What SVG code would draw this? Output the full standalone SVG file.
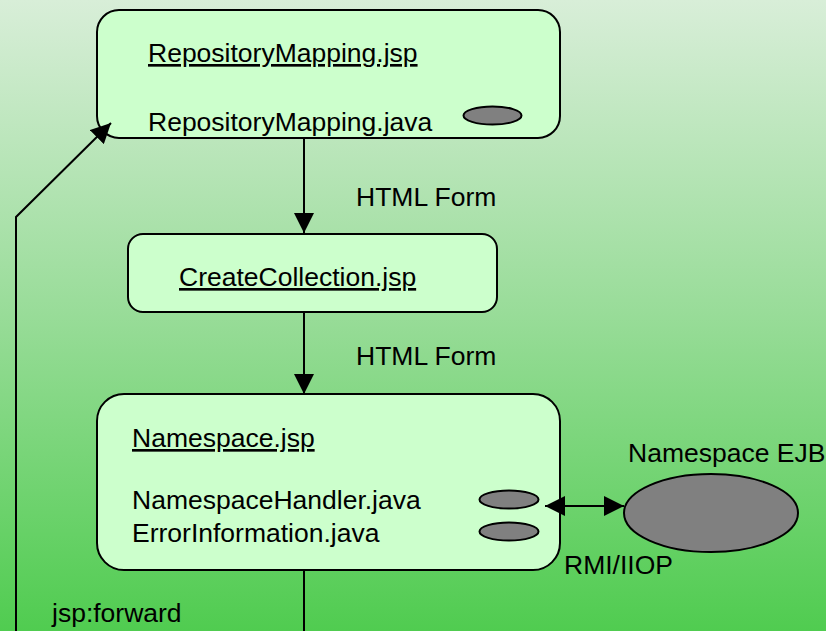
<svg xmlns="http://www.w3.org/2000/svg" width="826" height="631" viewBox="0 0 826 631">
  <defs>
    <linearGradient id="bg" x1="0" y1="0" x2="0" y2="1">
      <stop offset="0" stop-color="#d8eed8"/>
      <stop offset="0.5" stop-color="#98dc98"/>
      <stop offset="1" stop-color="#50cc50"/>
    </linearGradient>
    <marker id="head" viewBox="0 0 20 20" refX="20" refY="10" markerWidth="20" markerHeight="20" markerUnits="userSpaceOnUse" orient="auto-start-reverse">
      <path d="M0,0 L20,10 L0,20 Z" fill="#000"/>
    </marker>
  </defs>
  <style>
    .box { fill: #ccffcc; stroke: #000; stroke-width: 2; }
    .comp { fill: #808080; stroke: #000; stroke-width: 2; }
    .txt { font-family: "Liberation Sans", Arial, sans-serif; font-size: 26.5px; fill: #000; }
    .u { text-decoration: underline; }
    .line { fill: none; stroke: #000; stroke-width: 2; }
  </style>

  <rect x="0" y="0" width="826" height="631" fill="url(#bg)"/>

  <g id="repository-mapping">
    <rect class="box" x="97" y="10" width="463" height="128" rx="22" ry="22"/>
    <text class="txt u" x="148" y="62">RepositoryMapping.jsp</text>
    <text class="txt" x="148" y="131">RepositoryMapping.java</text>
    <ellipse class="comp" cx="492.5" cy="115.5" rx="29" ry="9"/>
  </g>

  <g id="create-collection">
    <rect class="box" x="128" y="234" width="369" height="78" rx="15" ry="15"/>
    <text class="txt u" x="179" y="286">CreateCollection.jsp</text>
  </g>

  <g id="namespace">
    <rect class="box" x="97" y="394" width="463" height="176" rx="27" ry="27"/>
    <text class="txt u" x="132" y="447">Namespace.jsp</text>
    <text class="txt" x="132" y="509">NamespaceHandler.java</text>
    <text class="txt" x="132" y="542">ErrorInformation.java</text>
    <ellipse class="comp" cx="509" cy="499.5" rx="29.5" ry="9"/>
    <ellipse class="comp" cx="509" cy="531.5" rx="29.5" ry="9"/>
  </g>

  <g id="namespace-ejb">
    <ellipse class="comp" cx="711" cy="513" rx="87" ry="39"/>
    <text class="txt" x="628" y="462">Namespace EJB</text>
  </g>

  <g id="connectors">
    <line class="line" x1="304" y1="138" x2="304" y2="233" marker-end="url(#head)"/>
    <line class="line" x1="304" y1="312" x2="304" y2="394" marker-end="url(#head)"/>
    <line class="line" x1="545" y1="506" x2="624" y2="506" marker-start="url(#head)" marker-end="url(#head)"/>
    <line class="line" x1="304" y1="570" x2="304" y2="631"/>
    <polyline class="line" points="16,631 16,217 111,123" marker-end="url(#head)"/>
    <text class="txt" x="356" y="206">HTML Form</text>
    <text class="txt" x="356" y="365">HTML Form</text>
    <text class="txt" x="564" y="574">RMI/IIOP</text>
    <text class="txt" x="52" y="622">jsp:forward</text>
  </g>
</svg>
